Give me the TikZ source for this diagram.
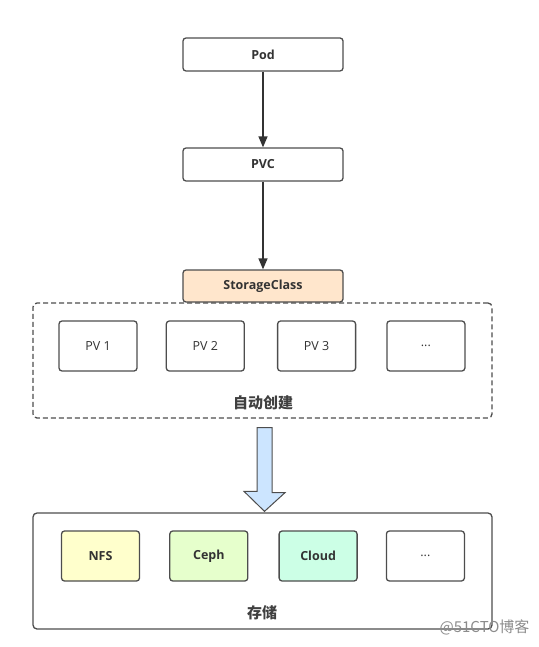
\documentclass[tikz,border=0pt]{standalone}
\usepackage{fontspec}
\setmainfont{Open Sans}
\newfontfamily\cjk{Noto Sans CJK SC}
\usetikzlibrary{arrows.meta,positioning,calc}
\definecolor{edgegray}{HTML}{4D4D4D}
\definecolor{orangefill}{HTML}{FFE6CC}
\definecolor{nfsfill}{HTML}{FFFFCC}
\definecolor{cephfill}{HTML}{E6FFCC}
\definecolor{cloudfill}{HTML}{CCFFE6}
\definecolor{arrowfill}{HTML}{CCE5FF}

\begin{document}
\begin{tikzpicture}[x=1pt, y=-1pt,
    box/.style={draw=edgegray, line width=1.3pt, rounded corners=3pt, align=center, minimum width=160pt, minimum height=33pt, font=\bfseries\fontsize{12.5}{14}\selectfont, text=black!80, fill=white},
    pvbox/.style={box, minimum width=78pt, minimum height=50pt, font=\fontsize{12.5}{14}\selectfont},
    stbox/.style={box, minimum width=78pt, minimum height=50pt},
    group/.style={draw=edgegray, line width=1.3pt, rounded corners=4pt, minimum width=459pt},
    caption/.style={font=\cjk\bfseries\fontsize{15}{17}\selectfont, text=black!75},
    arrow/.style={-{Triangle[length=11pt, width=9pt]}, line width=1.5pt, draw=black!80}
]
\useasboundingbox (0,0) rectangle (538,647);
\node[box] (pod) at (263,54.5) {Pod};
\node[box] (pvc) at (263,164.5) {PVC};
\node[group, dashed, dash pattern=on 5pt off 3pt, minimum height=115pt] (auto) at (262.5,360.5) {};
\node[box, fill=orangefill, minimum height=32pt] (sc) at (263,286) {StorageClass};
\node[pvbox] (pv1) at (98,346) {PV 1};
\node[pvbox, right=28pt of pv1] (pv2) {PV 2};
\node[pvbox, right=32pt of pv2] (pv3) {PV 3};
\node[pvbox, right=30pt of pv3] (pvn) {...};
\node[caption] (autolabel) at (263,403) {自动创建};
\node[group, minimum height=116pt] (store) at (262.5,571) {};
\node[stbox, fill=nfsfill] (nfs) at (100.5,556) {NFS};
\node[stbox, fill=cephfill, right=29pt of nfs] (ceph) {Ceph};
\node[stbox, fill=cloudfill, right=30pt of ceph] (cloud) {Cloud};
\node[pvbox, right=28pt of cloud] (stn) {...};
\node[caption] (storelabel) at (262,613) {存储};
\node[font=\cjk\fontsize{15}{17}\selectfont, text=black!45, anchor=east] (mark) at (533,627) {@51CTO博客};
\draw[arrow] (pod) -- (pvc);
\draw[arrow] (pvc) -- (sc);
% big arrow from the PV group down to the storage group
\draw[draw=edgegray, line width=1pt, fill=arrowfill, line join=miter]
    ($(auto.south)+(-5.5,9)$) -- ++(15,0) -- ++(0,65) -- ++(13,0)
    -- ($(store.north)+(2,-1)$) -- ++(-20.5,-20) -- ++(13,0) -- cycle;
\end{tikzpicture}
\end{document}
